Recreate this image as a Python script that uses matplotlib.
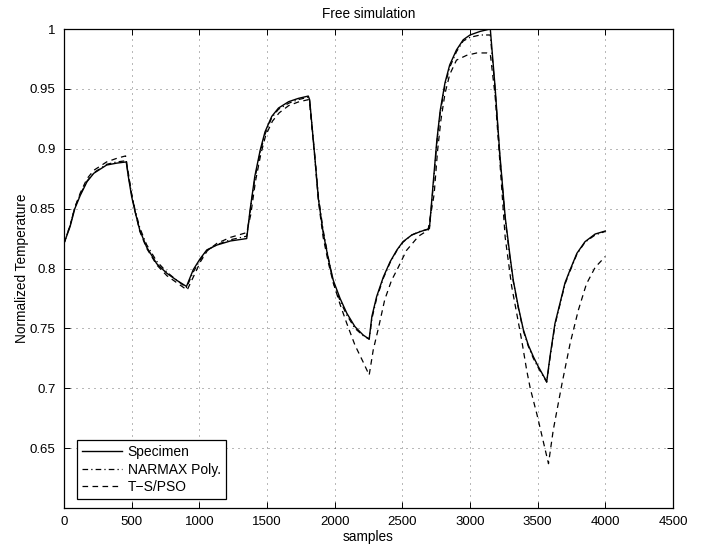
import matplotlib
matplotlib.use("Agg")
import matplotlib.pyplot as plt

plt.rcParams["font.family"] = ["Liberation Sans", "DejaVu Sans"]
plt.rcParams["font.size"] = 9.5

# measured specimen temperature
spec_s = [0, 45, 80, 120, 170, 220, 315, 390, 460, 475, 500, 525, 560, 610,
          685, 760, 835, 905, 955, 1005, 1055, 1130, 1230, 1350, 1375, 1410,
          1450, 1485, 1535, 1585, 1660, 1730, 1805, 1815, 1855, 1880, 1915,
          1955, 1990, 2040, 2090, 2150, 2210, 2255, 2275, 2310, 2360, 2410,
          2460, 2505, 2570, 2630, 2700, 2730, 2755, 2780, 2815, 2850, 2900,
          2950, 3000, 3075, 3150, 3185, 3220, 3260, 3296, 3320, 3357, 3394,
          3431, 3468, 3505, 3567, 3591, 3628, 3665, 3702, 3740, 3790, 3850,
          3925, 4000]
spec_v = [0.821, 0.835, 0.850, 0.861, 0.8725, 0.8795, 0.8864, 0.888, 0.889,
          0.877, 0.860, 0.8475, 0.832, 0.818, 0.804, 0.796, 0.790, 0.785,
          0.799, 0.808, 0.8155, 0.8196, 0.823, 0.825, 0.849, 0.877, 0.899,
          0.914, 0.927, 0.934, 0.9393, 0.942, 0.944, 0.941, 0.891, 0.858,
          0.830, 0.807, 0.790, 0.775, 0.7626, 0.7514, 0.7445, 0.741, 0.760,
          0.7765, 0.793, 0.8057, 0.8155, 0.8224, 0.828, 0.8307, 0.8333,
          0.874, 0.907, 0.932, 0.955, 0.970, 0.9825, 0.991, 0.995, 0.998,
          1.0, 0.952, 0.896, 0.843, 0.810, 0.790, 0.768, 0.749, 0.736,
          0.7264, 0.718, 0.7055, 0.7264, 0.7542, 0.771, 0.788, 0.799,
          0.8127, 0.8224, 0.8288, 0.8313]

# NARMAX polynomial model
narmax_s = [0, 45, 80, 120, 170, 220, 315, 390, 460, 475, 500, 525, 560, 610,
            685, 760, 835, 905, 955, 1005, 1055, 1130, 1230, 1350, 1375,
            1410, 1450, 1485, 1535, 1585, 1660, 1730, 1805, 1815, 1855, 1880,
            1915, 1955, 1990, 2040, 2090, 2150, 2210, 2255, 2275, 2310, 2360,
            2410, 2460, 2505, 2570, 2630, 2700, 2730, 2755, 2780, 2815, 2850,
            2900, 2950, 3000, 3075, 3150, 3185, 3220, 3260, 3296, 3320, 3357,
            3394, 3431, 3468, 3505, 3567, 3591, 3628, 3665, 3702, 3740, 3790,
            3850, 3925, 4000]
narmax_v = [0.821, 0.836, 0.851, 0.862, 0.873, 0.880, 0.887, 0.889, 0.890,
            0.878, 0.862, 0.849, 0.834, 0.820, 0.806, 0.797, 0.790, 0.784,
            0.797, 0.807, 0.815, 0.820, 0.824, 0.827, 0.847, 0.875, 0.897,
            0.912, 0.926, 0.933, 0.938, 0.941, 0.943, 0.940, 0.892, 0.860,
            0.832, 0.808, 0.788, 0.773, 0.761, 0.750, 0.744, 0.741, 0.758,
            0.775, 0.792, 0.805, 0.815, 0.822, 0.828, 0.831, 0.833, 0.871,
            0.905, 0.930, 0.953, 0.968, 0.981, 0.990, 0.993, 0.995, 0.995,
            0.950, 0.894, 0.841, 0.808, 0.789, 0.767, 0.748, 0.735, 0.725,
            0.717, 0.705, 0.725, 0.753, 0.770, 0.787, 0.798, 0.812, 0.822,
            0.828, 0.831]

# Takagi-Sugeno model tuned by PSO
ts_s = [0, 45, 80, 120, 170, 220, 315, 390, 455, 475, 500, 525, 560, 610, 685,
        760, 835, 910, 960, 1010, 1060, 1130, 1230, 1350, 1380, 1415, 1455,
        1490, 1540, 1590, 1660, 1730, 1805, 1815, 1855, 1880, 1915, 1955,
        1990, 2040, 2090, 2150, 2210, 2255, 2285, 2325, 2370, 2420, 2470,
        2530, 2620, 2690, 2735, 2760, 2785, 2815, 2850, 2900, 2975, 3050,
        3125, 3150, 3185, 3220, 3260, 3308, 3345, 3382, 3419, 3445, 3495,
        3555, 3580, 3615, 3680, 3740, 3800, 3860, 3925, 4000]
ts_v = [0.821, 0.836, 0.851, 0.863, 0.875, 0.882, 0.889, 0.892, 0.894, 0.880,
        0.862, 0.848, 0.831, 0.817, 0.803, 0.794, 0.788, 0.782, 0.794, 0.806,
        0.815, 0.821, 0.826, 0.830, 0.845, 0.873, 0.896, 0.911, 0.923, 0.930,
        0.936, 0.939, 0.941, 0.938, 0.890, 0.856, 0.826, 0.804, 0.788, 0.770,
        0.754, 0.736, 0.722, 0.711, 0.732, 0.751, 0.774, 0.790, 0.801, 0.815,
        0.827, 0.832, 0.862, 0.898, 0.924, 0.946, 0.962, 0.974, 0.978, 0.980,
        0.980, 0.979, 0.945, 0.890, 0.826, 0.785, 0.7626, 0.740, 0.715,
        0.700, 0.678, 0.649, 0.637, 0.665, 0.704, 0.7375, 0.765, 0.787,
        0.801, 0.810]

x_ticks = [0, 500, 1000, 1500, 2000, 2500, 3000, 3500, 4000, 4500]
y_ticks = [0.65, 0.7, 0.75, 0.8, 0.85, 0.9, 0.95, 1]

fig = plt.figure(figsize=(7.04, 5.46), dpi=100)
ax = fig.add_axes([64 / 704, 38 / 546, 609 / 704, 479 / 546])

ax.plot(spec_s, spec_v, color="k", lw=1.0, label="Specimen")
ax.plot(narmax_s, narmax_v, color="k", lw=0.9, dashes=(4.5, 2.5, 1, 2.5),
        label="NARMAX Poly.")
ax.plot(ts_s, ts_v, color="k", lw=0.9, dashes=(4.5, 3.5), label="T\u2212S/PSO")

ax.set_xlim(0, 4500)
ax.set_ylim(0.6, 1.0)
ax.set_xticks(x_ticks)
ax.set_yticks(y_ticks)
ax.set_yticklabels([f"{t:g}" for t in y_ticks])
ax.grid(True, color="0.35", lw=0.6, linestyle=(0, (1.2, 6)))
ax.tick_params(direction="in", length=4.5, width=0.7, top=True, right=True,
               pad=6, labelsize=9.5)
for sp in ax.spines.values():
    sp.set_linewidth(0.9)

ax.set_title("Free simulation", fontsize=9.8, pad=8)
ax.set_xlabel("samples", fontsize=9.8, labelpad=1)
ax.set_ylabel("Normalized Temperature", fontsize=9.8, labelpad=1)

leg = ax.legend(loc="lower left", bbox_to_anchor=(13 / 609, 9 / 479),
                borderaxespad=0, fancybox=False, framealpha=1,
                edgecolor="k", handlelength=2.9, handletextpad=0.4,
                labelspacing=0.25, borderpad=0.35, fontsize=10)
leg.get_frame().set_linewidth(0.9)

fig.savefig("out.png", dpi=100)
